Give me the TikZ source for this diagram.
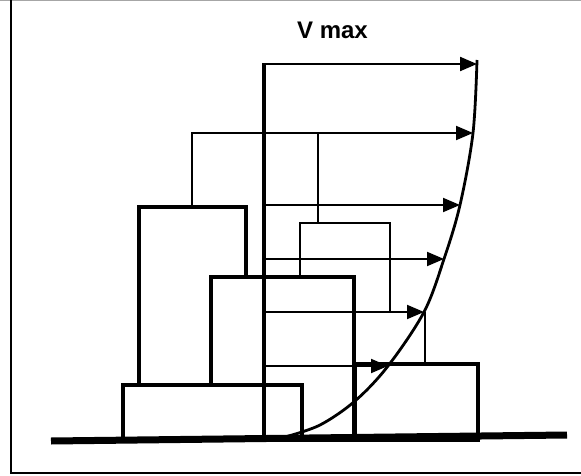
\documentclass[tikz,border=0pt]{standalone}
\usepackage{fontspec}
\setmainfont{Liberation Sans}
\usetikzlibrary{arrows.meta}
\begin{document}
\begin{tikzpicture}[x=1pt,y=-1pt,
  thinline/.style={line width=1.9pt},
  midline/.style={line width=3.1pt},
  thickline/.style={line width=4.3pt},
  block/.style={fill=white, line join=miter},
  wind/.style={thinline, -{Triangle[length=17pt,width=14pt]}},
  label/.style={anchor=base, font=\bfseries\fontsize{24}{29}\selectfont}
]
\useasboundingbox (0,0) rectangle (581,476);

% outer frame
\draw[black!35, line width=1.2pt] (0,0.6) -- (581,0.6);
\draw[line width=1.8pt] (11,0) -- (11,473) -- (581,473);

% buildings, from back to front
\draw[midline, block]   (139,207) rectangle (246,385); % tall left block
\draw[thinline, block]  (300,223) rectangle (390,312); % small block behind
\draw[thickline, block] (211,277) rectangle (354,440); % central block
\draw[thickline, block] (123,385) rectangle (302,440); % low front block
\draw[midline, block]   (355,364) rectangle (478,440); % low right block

% mast of the profile
\coordinate (mast-foot) at (264,440);
\coordinate (mast-top)  at (264,64);
\draw[thickline] (mast-foot) -- (mast-top);

% points on the velocity profile
\coordinate (v0) at (477,64);
\coordinate (v1) at (473,133);
\coordinate (v2) at (460,205);
\coordinate (v3) at (444,259);
\coordinate (v4) at (424,312);
\coordinate (v5) at (388,366);

% starting points of the velocity arrows
\coordinate (a-top) at (192,207);
\coordinate (d-top) at (318,223);
\coordinate (e-top) at (425,364);
\coordinate (m2) at (264,205);
\coordinate (m3) at (264,259);
\coordinate (m4) at (264,312);
\coordinate (m5) at (264,366);
\coordinate (d-join) at (318,133);
\coordinate (e-join) at (425,312);

% velocity arrows
\draw[wind, line width=2.2pt] ([xshift=-2pt]mast-top) -- (v0);
\draw[wind] (a-top) |- (v1);
\draw[thinline] (d-top) -- (d-join);
\draw[wind] (m2) -- (v2);
\draw[wind] (m3) -- (v3);
\draw[wind] (m4) -- (v4);
\draw[thinline] (e-top) -- (e-join);
\draw[wind] (m5) -- (v5);

% velocity profile
\draw[line width=2.8pt] plot[smooth, tension=0.55] coordinates
  {(285,437) (320,425) (355,401) (v5) (v4) (v3) (v2) (v1) (477,60)};

% ground
\draw[line width=7pt] (51,441) -- (567,435);

% label
\node[label] (vmax) at (332.5,39) {V max};
\end{tikzpicture}
\end{document}
